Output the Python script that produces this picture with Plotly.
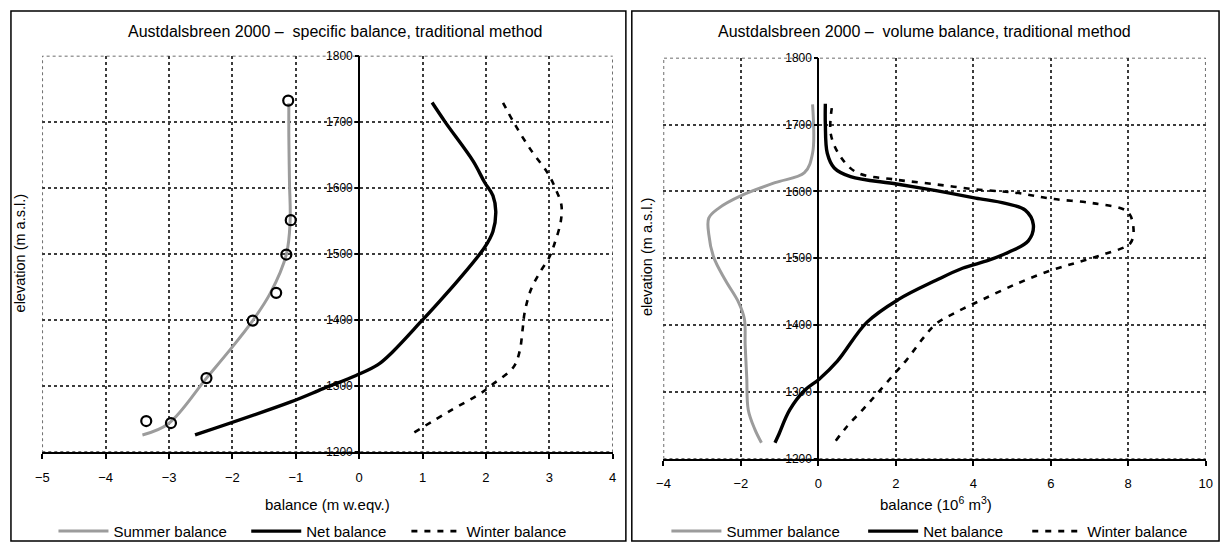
import plotly.graph_objects as go

# ---- Specific balance (m w.eqv.) vs elevation (m a.s.l.) ----
spec_summer_b = [-3.42, -3.01, -2.41, -2.02, -1.68, -1.40, -1.15, -1.09, -1.10, -1.11, -1.11]
spec_summer_z = [1226, 1243, 1312, 1357, 1399, 1441, 1499, 1549, 1608, 1677, 1728]

obs_summer_b = [-1.12, -1.08, -1.15, -1.31, -1.68, -2.41, -3.36, -2.97]
obs_summer_z = [1732, 1551, 1499, 1441, 1399, 1312, 1247, 1244]

spec_net_b = [-2.59, -1.08, -0.57, -0.05, 0.29, 0.53, 0.97, 1.20, 1.57, 1.98, 2.11, 2.155, 2.11, 1.98, 1.80, 1.36, 1.15]
spec_net_z = [1226, 1276, 1296, 1316, 1332, 1352, 1397, 1421, 1461, 1510, 1534, 1564, 1588, 1608, 1640, 1699, 1729]

spec_winter_b = [0.87, 1.46, 1.90, 2.11, 2.43, 2.53, 2.58, 2.61, 2.71, 2.87, 3.00, 3.08, 3.18, 3.19, 3.10, 2.97, 2.71, 2.45, 2.24]
spec_winter_z = [1230, 1264, 1288, 1303, 1328, 1352, 1387, 1411, 1446, 1475, 1495, 1515, 1549, 1574, 1598, 1623, 1657, 1697, 1734]

# ---- Volume balance (10^6 m3) vs elevation (m a.s.l.) ----
vol_summer_b = [-1.47, -1.64, -1.81, -1.85, -1.89, -1.91, -2.06, -2.40, -2.70, -2.83, -2.83, -2.57, -1.98, -1.12, -0.36, -0.15, -0.15]
vol_summer_z = [1224, 1244, 1273, 1322, 1370, 1409, 1434, 1467, 1501, 1536, 1560, 1575, 1594, 1613, 1628, 1657, 1730]

vol_net_b = [-1.12, -1.04, -0.74, -0.36, 0.02, 0.49, 1.25, 2.06, 3.04, 3.72, 4.40, 4.91, 5.42, 5.55, 5.34, 4.83, 4.06, 3.04, 2.02, 0.83, 0.41, 0.23, 0.18, 0.18]
vol_net_z = [1224, 1234, 1273, 1302, 1319, 1346, 1404, 1438, 1467, 1485, 1497, 1509, 1526, 1550, 1572, 1582, 1590, 1601, 1611, 1622, 1635, 1657, 1701, 1731]

vol_winter_b = [0.45, 0.75, 1.17, 1.51, 2.02, 2.28, 2.70, 3.04, 3.55, 4.23, 5.17, 6.02, 6.70, 7.38, 8.06, 8.13, 7.97, 7.12, 6.02, 5.08, 4.06, 2.96, 1.94, 1.00, 0.57, 0.32, 0.36]
vol_winter_z = [1227, 1249, 1275, 1297, 1331, 1348, 1380, 1402, 1419, 1438, 1463, 1482, 1494, 1506, 1523, 1548, 1570, 1582, 1589, 1598, 1603, 1611, 1618, 1628, 1652, 1686, 1730]

series_names = ["Summer balance", "Net balance", "Winter balance"]
spec_xticks = list(range(-5, 5))
vol_xticks = list(range(-4, 11, 2))
elev_ticks = list(range(1200, 1801, 100))

W, H = 1230, 552
FONT = "Liberation Sans, Arial, sans-serif"


def px_x(p):
    return p / W


def px_y(p):
    return (H - p) / H


SUMMER = dict(color="#9c9c9c", width=3)
NET = dict(color="black", width=3.4)
WINTER = dict(color="black", width=2.6, dash="6px,7px")
GRID_COLOR = "#3c3c3c"
styles = [SUMMER, NET, WINTER]

fig = go.Figure()

# left panel: one legend per entry so each can be placed on its own
spec_series = [(spec_summer_b, spec_summer_z), (spec_net_b, spec_net_z),
               (spec_winter_b, spec_winter_z)]
for i, ((bx, zy), name, st) in enumerate(zip(spec_series, series_names, styles)):
    fig.add_trace(go.Scatter(x=bx, y=zy, mode="lines", line=st, line_shape="spline",
                             name=name, legend="legend" if i == 0 else f"legend{i + 1}"))
fig.add_trace(go.Scatter(x=obs_summer_b, y=obs_summer_z, mode="markers", showlegend=False,
                         marker=dict(symbol="circle-open", size=10, color="black",
                                     line=dict(width=2.2, color="black"))))

# right panel
vol_series = [(vol_summer_b, vol_summer_z), (vol_net_b, vol_net_z),
              (vol_winter_b, vol_winter_z)]
for i, ((bx, zy), name, st) in enumerate(zip(vol_series, series_names, styles)):
    fig.add_trace(go.Scatter(x=bx, y=zy, mode="lines", line=st, line_shape="spline",
                             name=name, legend=f"legend{i + 4}", xaxis="x2", yaxis="y2"))

grid = dict(showgrid=True, gridcolor=GRID_COLOR, gridwidth=1.5, griddash="dot")
xcommon = dict(showline=True, linecolor="black", linewidth=2, ticks="outside", ticklen=5,
               tickcolor="black", tickwidth=2, zeroline=True, zerolinecolor="black",
               zerolinewidth=2, tickfont=dict(size=13, color="black"), ticklabelstandoff=7,
               **grid)
ycommon = dict(anchor="free", showline=False, ticks="outside", ticklen=4, tickcolor="black",
               tickwidth=1.5, zeroline=False, tickfont=dict(size=12, color="black"),
               tickvals=elev_ticks, range=[1200, 1800], **grid)

# plot-area pixel bounds
L = dict(x0=35.7, x1=612.7, ytop=49.9, ybot=456.7)
R = dict(x0=664.0, x1=1212.5, ytop=52.0, ybot=463.5)

fig.update_layout(
    width=W, height=H, margin=dict(l=0, r=0, t=0, b=0),
    paper_bgcolor="white", plot_bgcolor="white",
    font=dict(family=FONT, color="black", size=15),
    xaxis=dict(domain=[px_x(L["x0"]), px_x(L["x1"])], range=[-5, 4], tickvals=spec_xticks,
               anchor="y", **xcommon),
    yaxis=dict(domain=[px_y(L["ybot"]), px_y(L["ytop"])],
               position=px_x(L["x0"] + 5 * (L["x1"] - L["x0"]) / 9), **ycommon),
    xaxis2=dict(domain=[px_x(R["x0"]), px_x(R["x1"])], range=[-4, 10], tickvals=vol_xticks,
                anchor="y2", **xcommon),
    yaxis2=dict(domain=[px_y(R["ybot"]), px_y(R["ytop"])],
                position=px_x(R["x0"] + 4 * (R["x1"] - R["x0"]) / 14), **ycommon),
)

# legend entry left edges (px)
legend_x = [47, 242, 404, 667, 866, 1032]
for i, lx in enumerate(legend_x):
    key = "legend" if i == 0 else f"legend{i + 1}"
    fig.update_layout({key: dict(orientation="h", x=px_x(lx), xanchor="left", y=px_y(538),
                                 yanchor="middle", font=dict(size=15),
                                 bgcolor="rgba(0,0,0,0)", itemwidth=50)})

# panel frames and dotted plot-area borders
shapes = [
    dict(type="rect", xref="paper", yref="paper", x0=px_x(4), x1=px_x(626), y0=px_y(548),
         y1=px_y(4), line=dict(color="black", width=1.5)),
    dict(type="rect", xref="paper", yref="paper", x0=px_x(632), x1=px_x(1226), y0=px_y(548),
         y1=px_y(4), line=dict(color="black", width=1.5)),
    dict(type="rect", xref="x", yref="y", x0=-5, x1=4, y0=1200, y1=1800, layer="below",
         line=dict(color=GRID_COLOR, width=1.5, dash="dot")),
    dict(type="rect", xref="x2", yref="y2", x0=-4, x1=10, y0=1200, y1=1800, layer="below",
         line=dict(color=GRID_COLOR, width=1.5, dash="dot")),
]
fig.update_layout(shapes=shapes)

ann = [
    dict(text="Austdalsbreen 2000 \u2013  specific balance, traditional method", x=px_x(332),
         y=px_y(25), font=dict(size=16)),
    dict(text="Austdalsbreen 2000 \u2013  volume balance, traditional method", x=px_x(928),
         y=px_y(25), font=dict(size=16)),
    dict(text="balance (m w.eqv.)", x=px_x(324), y=px_y(510), font=dict(size=15)),
    dict(text="balance (10<sup>6</sup> m<sup>3</sup>)", x=px_x(940), y=px_y(509),
         font=dict(size=15)),
    dict(text="elevation (m a.s.l.)", x=px_x(13), y=px_y(253), textangle=-90,
         font=dict(size=14.5)),
    dict(text="elevation (m a.s.l.)", x=px_x(648), y=px_y(257), textangle=-90,
         font=dict(size=14.5)),
]
for a in ann:
    a.update(xref="paper", yref="paper", showarrow=False, xanchor="center", yanchor="middle")
fig.update_layout(annotations=ann)

fig.write_html("out.html")
